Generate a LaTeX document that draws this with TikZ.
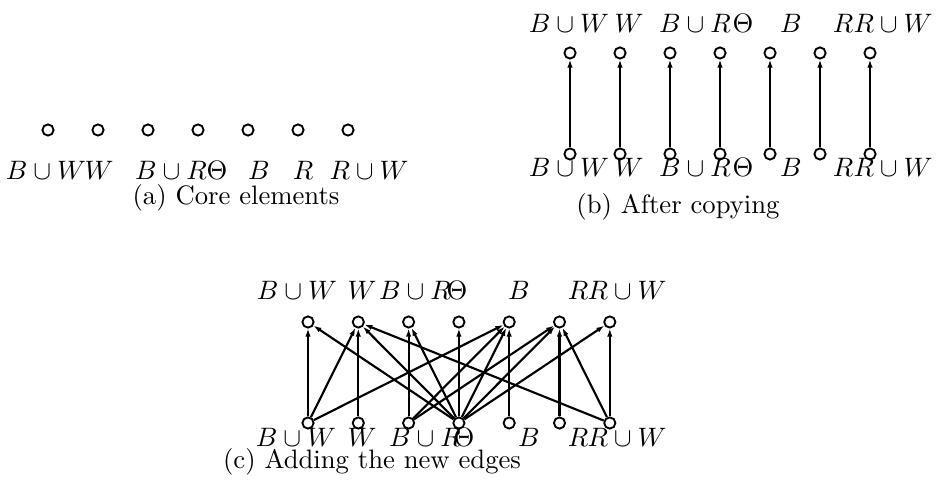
\documentclass[tikz,border=0pt]{standalone}
\usetikzlibrary{arrows.meta}
\begin{document}
\begin{tikzpicture}[x=0.375pt,y=-0.375pt,
  vtx/.style={circle,draw,line width=0.7pt,minimum size=4.2pt,inner sep=0pt},
  lbl/.style={inner sep=0pt},
  captxt/.style={inner sep=0pt},
  edge/.style={-{Latex[length=3pt,width=2pt]},line width=0.8pt}]
\useasboundingbox (0,0) rectangle (940,490);
% ---------- (a) ----------
\foreach \i in {1,...,7} \node[vtx] (a\i) at ({48+50*(\i-1)},130) {};
\node[lbl] (al1) at (46,170) {$B\cup W$};
\node[lbl] (al2) at (99,170) {$W$};
\node[lbl] (al3) at (171,170) {$B\cup R$};
\node[lbl] (al4) at (217,170) {$\Theta$};
\node[lbl] (al5) at (259,170) {$B$};
\node[lbl] (al6) at (303,170) {$R$};
\node[lbl] (al7) at (369,170) {$R\cup W$};
\node[captxt] (capa) at (236,198) {(a) Core elements};
% ---------- (b) ----------
\foreach \i in {1,...,7} {
  \node[vtx] (bt\i) at ({570+50*(\i-1)},53) {};
  \node[vtx] (bb\i) at ({570+50*(\i-1)},154) {};
  \draw[edge] (bb\i) -- (bt\i);
}
\foreach \y/\p in {23/t,167/b} {
  \node[lbl] (bl\p1) at (569,\y) {$B\cup W$};
  \node[lbl] (bl\p2) at (629,\y) {$W$};
  \node[lbl] (bl\p3) at (695,\y) {$B\cup R$};
  \node[lbl] (bl\p4) at (743,\y) {$\Theta$};
  \node[lbl] (bl\p5) at (791,\y) {$B$};
  \node[lbl] (bl\p6) at (843,\y) {$R$};
  \node[lbl] (bl\p7) at (893,\y) {$R\cup W$};
}
\node[captxt] (capb) at (678,207) {(b) After copying};
% ---------- (c) ----------
\foreach \i in {1,...,7} {
  \node[vtx] (ct\i) at ({308+50.3*(\i-1)},322) {};
  \node[vtx] (cb\i) at ({308+50.3*(\i-1)},423) {};
  \draw[edge] (cb\i) -- (ct\i);
}
\node[lbl] (clt1) at (297,290) {$B\cup W$};
\node[lbl] (clt2) at (362,290) {$W$};
\node[lbl] (clt3) at (415,290) {$B\cup R$};
\node[lbl] (clt4) at (457,290) {$\Theta$};
\node[lbl] (clt5) at (519,290) {$B$};
\node[lbl] (clt6) at (578,290) {$R$};
\node[lbl] (clt7) at (627,290) {$R\cup W$};
\node[lbl] (clb1) at (296,437) {$B\cup W$};
\node[lbl] (clb2) at (362,437) {$W$};
\node[lbl] (clb3) at (425,437) {$B\cup R$};
\node[lbl] (clb4) at (464,437) {$\Theta$};
\node[lbl] (clb5) at (529,437) {$B$};
\node[lbl] (clb6) at (578,437) {$R$};
\node[lbl] (clb7) at (627,437) {$R\cup W$};
\foreach \s/\t in {1/2,1/5,3/5,3/6,7/2,7/6,4/1,4/2,4/3,4/5,4/6,4/7}
  \draw[edge] (cb\s) -- (ct\t);
\node[captxt] (capc) at (372,462) {(c) Adding the new edges};
\end{tikzpicture}
\end{document}
